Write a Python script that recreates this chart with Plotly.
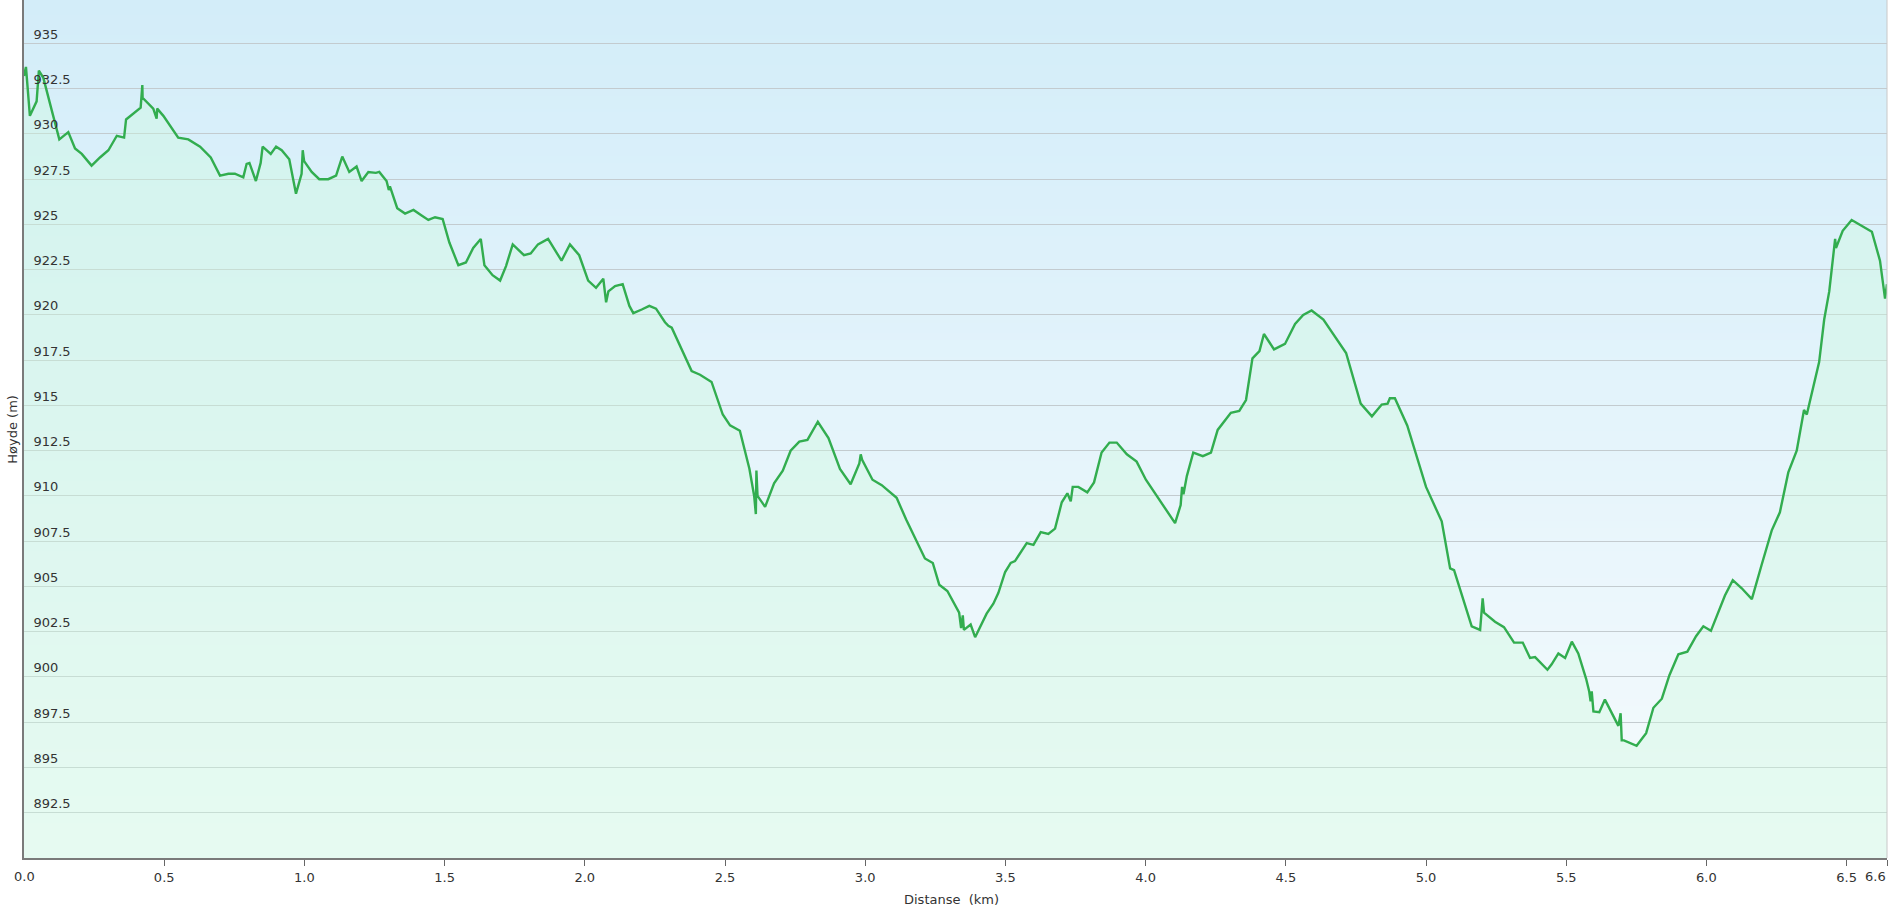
import base64
import struct
import zlib
import plotly.graph_objects as go

# ---- data ----
distance_km = [
    0.000, 0.007, 0.021, 0.045, 0.053, 0.069, 0.099, 0.126, 0.158, 0.182, 0.206, 0.241, 0.271, 0.301,
    0.331, 0.357, 0.364, 0.416, 0.422, 0.423, 0.461, 0.473, 0.475, 0.497, 0.550, 0.586, 0.628, 0.666,
    0.699, 0.729, 0.752, 0.782, 0.794, 0.804, 0.827, 0.844, 0.851, 0.880, 0.899, 0.919, 0.946, 0.970,
    0.990, 0.994, 0.999, 1.026, 1.053, 1.085, 1.113, 1.135, 1.160, 1.186, 1.204, 1.228, 1.255, 1.267,
    1.293, 1.301, 1.305, 1.331, 1.359, 1.389, 1.418, 1.442, 1.466, 1.493, 1.517, 1.549, 1.576, 1.602,
    1.629, 1.642, 1.671, 1.698, 1.719, 1.743, 1.783, 1.807, 1.833, 1.869, 1.917, 1.947, 1.980, 2.012,
    2.040, 2.066, 2.076, 2.084, 2.108, 2.135, 2.159, 2.173, 2.203, 2.230, 2.254, 2.286, 2.298, 2.310,
    2.381, 2.411, 2.452, 2.492, 2.518, 2.553, 2.587, 2.604, 2.610, 2.612, 2.616, 2.643, 2.675, 2.706,
    2.734, 2.765, 2.794, 2.831, 2.869, 2.910, 2.948, 2.979, 2.984, 2.989, 3.026, 3.059, 3.112, 3.146,
    3.213, 3.241, 3.264, 3.293, 3.335, 3.342, 3.348, 3.352, 3.376, 3.392, 3.433, 3.457, 3.475, 3.499,
    3.519, 3.534, 3.576, 3.600, 3.626, 3.653, 3.677, 3.701, 3.721, 3.733, 3.740, 3.760, 3.792, 3.816,
    3.843, 3.871, 3.897, 3.933, 3.968, 4.001, 4.105, 4.125, 4.130, 4.135, 4.147, 4.170, 4.204, 4.233,
    4.257, 4.304, 4.334, 4.358, 4.381, 4.406, 4.422, 4.458, 4.497, 4.533, 4.562, 4.592, 4.634, 4.670,
    4.715, 4.767, 4.807, 4.842, 4.863, 4.871, 4.889, 4.933, 5.000, 5.056, 5.086, 5.100, 5.163, 5.193,
    5.202, 5.207, 5.246, 5.278, 5.314, 5.345, 5.371, 5.389, 5.433, 5.448, 5.472, 5.496, 5.520, 5.543,
    5.571, 5.582, 5.587, 5.591, 5.597, 5.618, 5.638, 5.686, 5.694, 5.698, 5.706, 5.751, 5.785, 5.811,
    5.841, 5.868, 5.900, 5.932, 5.963, 5.989, 6.016, 6.066, 6.094, 6.126, 6.162, 6.197, 6.233, 6.262,
    6.292, 6.322, 6.348, 6.358, 6.381, 6.402, 6.420, 6.438, 6.459, 6.462, 6.486, 6.518, 6.590, 6.619,
    6.637, 6.644,
]
elevation_m = [
    933.2, 933.7, 931.0, 931.8, 933.5, 933.1, 931.3, 929.7, 930.1, 929.2, 928.9, 928.25, 928.7, 929.1,
    929.9, 929.8, 930.8, 931.45, 932.7, 932.0, 931.4, 930.85, 931.4, 931.0, 929.8, 929.7, 929.3, 928.7,
    927.7, 927.8, 927.8, 927.6, 928.35, 928.4, 927.4, 928.4, 929.3, 928.9, 929.3, 929.1, 928.6, 926.7,
    927.8, 929.1, 928.5, 927.9, 927.5, 927.5, 927.7, 928.75, 927.9, 928.2, 927.4, 927.9, 927.85, 927.9,
    927.4, 926.9, 927.1, 925.9, 925.6, 925.8, 925.5, 925.25, 925.4, 925.3, 924.0, 922.75, 922.9, 923.7,
    924.2, 922.75, 922.2, 921.9, 922.7, 923.9, 923.3, 923.4, 923.9, 924.2, 923.0, 923.9, 923.3, 921.9,
    921.5, 922.0, 920.7, 921.3, 921.6, 921.7, 920.5, 920.1, 920.3, 920.5, 920.35, 919.6, 919.4, 919.3,
    916.9, 916.7, 916.3, 914.5, 913.9, 913.6, 911.5, 910.0, 909.0, 911.4, 910.0, 909.4, 910.7, 911.4,
    912.5, 913.0, 913.1, 914.1, 913.2, 911.5, 910.65, 911.8, 912.3, 912.0, 910.9, 910.6, 909.9, 908.7,
    906.55, 906.3, 905.1, 904.75, 903.55, 902.7, 903.4, 902.6, 902.9, 902.2, 903.5, 904.05, 904.65, 905.8,
    906.3, 906.4, 907.4, 907.3, 908.0, 907.9, 908.2, 909.65, 910.15, 909.7, 910.5, 910.5, 910.2, 910.75,
    912.4, 912.95, 912.95, 912.3, 911.9, 910.9, 908.5, 909.5, 910.5, 910.1, 911.1, 912.4, 912.2, 912.4,
    913.65, 914.6, 914.7, 915.3, 917.6, 918.0, 918.95, 918.1, 918.4, 919.5, 920.0, 920.25, 919.75, 918.9,
    917.9, 915.1, 914.4, 915.05, 915.1, 915.4, 915.4, 913.9, 910.5, 908.6, 906.0, 905.9, 902.8, 902.6,
    904.35, 903.55, 903.05, 902.75, 901.9, 901.9, 901.05, 901.1, 900.4, 900.7, 901.3, 901.05, 901.95, 901.3,
    899.9, 899.2, 898.65, 899.2, 898.1, 898.05, 898.75, 897.3, 898.0, 896.5, 896.5, 896.2, 896.9, 898.3,
    898.8, 900.1, 901.25, 901.4, 902.25, 902.8, 902.55, 904.5, 905.35, 904.9, 904.3, 906.2, 908.1, 909.1,
    911.3, 912.5, 914.75, 914.5, 916.1, 917.4, 919.75, 921.3, 924.2, 923.7, 924.65, 925.25, 924.6, 923.0,
    920.9, 921.7,
]
x_tick_vals = [0.0, 0.5, 1.0, 1.5, 2.0, 2.5, 3.0, 3.5, 4.0, 4.5, 5.0, 5.5, 6.0, 6.5, 6.644]
x_tick_text = ["0.0", "0.5", "1.0", "1.5", "2.0", "2.5", "3.0", "3.5", "4.0", "4.5", "5.0", "5.5",
               "6.0", "6.5", "6.6"]
y_tick_vals = [892.5, 895, 897.5, 900, 902.5, 905, 907.5, 910, 912.5, 915, 917.5, 920, 922.5, 925,
               927.5, 930, 932.5, 935]
y_tick_text = ["892.5", "895", "897.5", "900", "902.5", "905", "907.5", "910", "912.5", "915",
               "917.5", "920", "922.5", "925", "927.5", "930", "932.5", "935"]
x_title = "Distanse\u00a0 (km)"
y_title = "Høyde (m)"


def gradient_png(top, bottom, h=256, w=4):
    rows = b""
    for i in range(h):
        t = i / (h - 1)
        px = bytes(round(top[k] + (bottom[k] - top[k]) * t) for k in range(3))
        rows += b"\x00" + px * w

    def chunk(tag, data):
        return (struct.pack(">I", len(data)) + tag + data
                + struct.pack(">I", zlib.crc32(tag + data) & 0xFFFFFFFF))

    png = (b"\x89PNG\r\n\x1a\n"
           + chunk(b"IHDR", struct.pack(">IIBBBBB", w, h, 8, 2, 0, 0, 0))
           + chunk(b"IDAT", zlib.compress(rows))
           + chunk(b"IEND", b""))
    return "data:image/png;base64," + base64.b64encode(png).decode()


FONT = "DejaVu Sans, Verdana, sans-serif"
TICK_FONT = dict(family=FONT, size=13, color="#333333")
LABEL_Y = -0.021  # paper y of the x tick labels

# the first and last x labels are placed as annotations (edge labels)
axis_text = [""] + x_tick_text[1:-1] + [""]

fig = go.Figure()
fig.add_trace(go.Scatter(
    x=distance_km, y=elevation_m, mode="lines",
    line=dict(color="#32ad4f", width=2.4),
    fill="tozeroy", fillcolor="rgba(205, 250, 222, 0.38)",
    hoverinfo="skip", showlegend=False,
))

fig.update_layout(
    width=1903, height=908,
    margin=dict(l=24, r=16, t=0, b=50),
    paper_bgcolor="white",
    plot_bgcolor="rgba(0,0,0,0)",
    font=dict(family=FONT, size=13, color="#333333"),
    images=[dict(
        source=gradient_png((211, 237, 249), (246, 251, 253)),
        xref="paper", yref="paper", x=0, y=1, sizex=1, sizey=1,
        sizing="stretch", layer="below", xanchor="left", yanchor="top",
    )],
    xaxis=dict(
        range=[0, distance_km[-1]], tickvals=x_tick_vals, ticktext=axis_text,
        showgrid=False, zeroline=False, showline=True, linecolor="#7a7a7a", linewidth=2,
        ticks="outside", ticklen=6, tickwidth=1, tickcolor="#666666",
        automargin=False, tickfont=TICK_FONT,
    ),
    yaxis=dict(
        range=[890, 937.4], tickvals=y_tick_vals, ticktext=y_tick_text,
        showgrid=True, gridcolor="#c3cbcf", gridwidth=1, zeroline=False,
        showline=True, linecolor="#7a7a7a", linewidth=2, ticks="",
        ticklabelposition="inside top", ticklabelstandoff=8,
        automargin=False, tickfont=TICK_FONT,
    ),
    shapes=[dict(type="line", xref="paper", yref="paper", x0=1, x1=1, y0=0, y1=1,
                 line=dict(color="#c8c8c8", width=1))],
    annotations=[
        dict(text=x_tick_text[0], xref="x", yref="paper", x=x_tick_vals[0], y=LABEL_Y,
             xanchor="center", yanchor="middle", showarrow=False, font=TICK_FONT),
        dict(text=x_tick_text[-1], xref="x", yref="paper", x=x_tick_vals[-1], y=LABEL_Y,
             xanchor="right", yanchor="middle", showarrow=False, font=TICK_FONT, xshift=1),
        dict(text=x_title, xref="paper", yref="paper", x=0.4976, y=-0.0478,
             xanchor="center", yanchor="middle", showarrow=False, font=TICK_FONT),
        dict(text=y_title, xref="paper", yref="paper", x=-0.0066, y=0.5, textangle=-90,
             xanchor="center", yanchor="middle", showarrow=False, font=TICK_FONT),
    ],
)

fig.write_html(
    "out.html",
    config={"displayModeBar": False},
    post_script="document.body.style.margin='0';document.body.style.overflow='hidden';",
)
